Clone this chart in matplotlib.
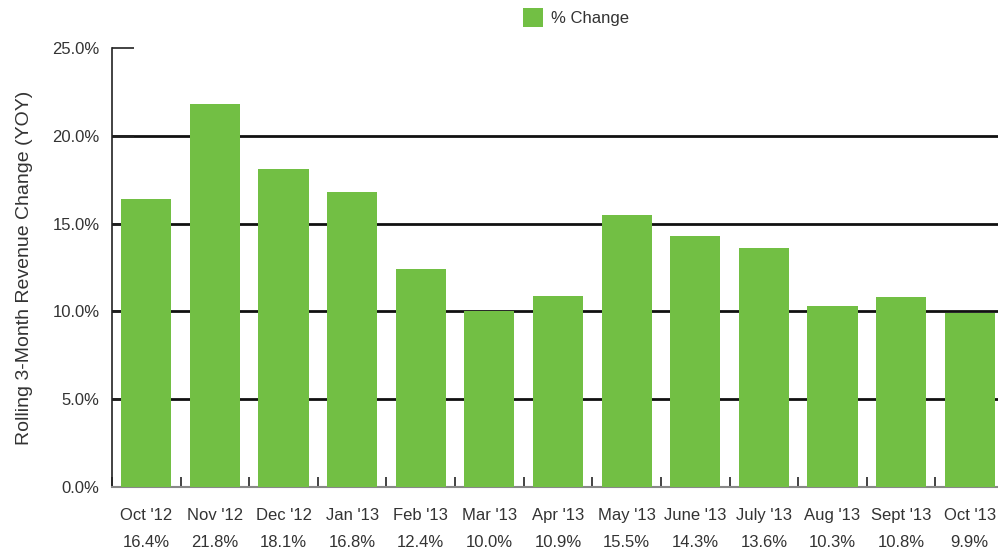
import matplotlib.pyplot as plt
import numpy as np

plt.rcParams['font.family'] = ['Liberation Sans Narrow', 'Liberation Sans', 'DejaVu Sans']

# datos
meses = ["Oct '12", "Nov '12", "Dec '12", "Jan '13", "Feb '13", "Mar '13", "Apr '13",
         "May '13", "June '13", "July '13", "Aug '13", "Sept '13", "Oct '13"]
cambio = [16.4, 21.8, 18.1, 16.8, 12.4, 10.0, 10.9, 15.5, 14.3, 13.6, 10.3, 10.8, 9.9]
ticks_y = [0, 5, 10, 15, 20, 25]

verde = "#72bf44"
texto = "#333333"

fig = plt.figure(figsize=(9.98, 5.48), dpi=100)
# el eje se sale un poco por la derecha, como en el original
ax = fig.add_axes([112 / 998, (548 - 487) / 548, (1004 - 112) / 998, (487 - 48) / 548])

x = np.arange(len(meses))
ax.bar(x, cambio, width=0.73, color=verde, zorder=3, label="% Change")

for v in ticks_y[1:-1]:
    ax.axhline(v, color="#111111", lw=2, zorder=1)

ax.set_xlim(-0.5, len(meses) - 0.5)
ax.set_ylim(0, 25)
ax.set_yticks(ticks_y)
ax.set_yticklabels([f"{v:.1f}%" for v in ticks_y], fontsize=12, color=texto)
ax.tick_params(axis="y", direction="in", length=16, width=1.2, color="#222222", pad=9)

etiquetas = [f"{m}\n{v:.1f}%" for m, v in zip(meses, cambio)]
ax.set_xticks(x)
ax.set_xticklabels(etiquetas, fontsize=12, color=texto, linespacing=2.0)
ax.tick_params(axis="x", length=0, pad=15)
ax.set_xticks(np.arange(len(meses)) - 0.5, minor=True)
ax.tick_params(axis="x", which="minor", direction="in", length=7, width=1.2, color="#222222")

for lado in ["top", "right"]:
    ax.spines[lado].set_visible(False)
ax.spines["left"].set_color("#222222")
ax.spines["left"].set_linewidth(1.2)
ax.spines["bottom"].set_color("#888888")
ax.spines["bottom"].set_linewidth(1.5)

ax.set_ylabel("Rolling 3-Month Revenue Change (YOY)", fontsize=14, color=texto, labelpad=14)

ax.legend(loc="upper center", bbox_to_anchor=(0.5 + (576 - 558) / 892, 1.125), frameon=False,
          fontsize=12, handlelength=1.2, handleheight=1.4, handletextpad=0.5, labelcolor=texto)

fig.savefig("out.png", dpi=100)
